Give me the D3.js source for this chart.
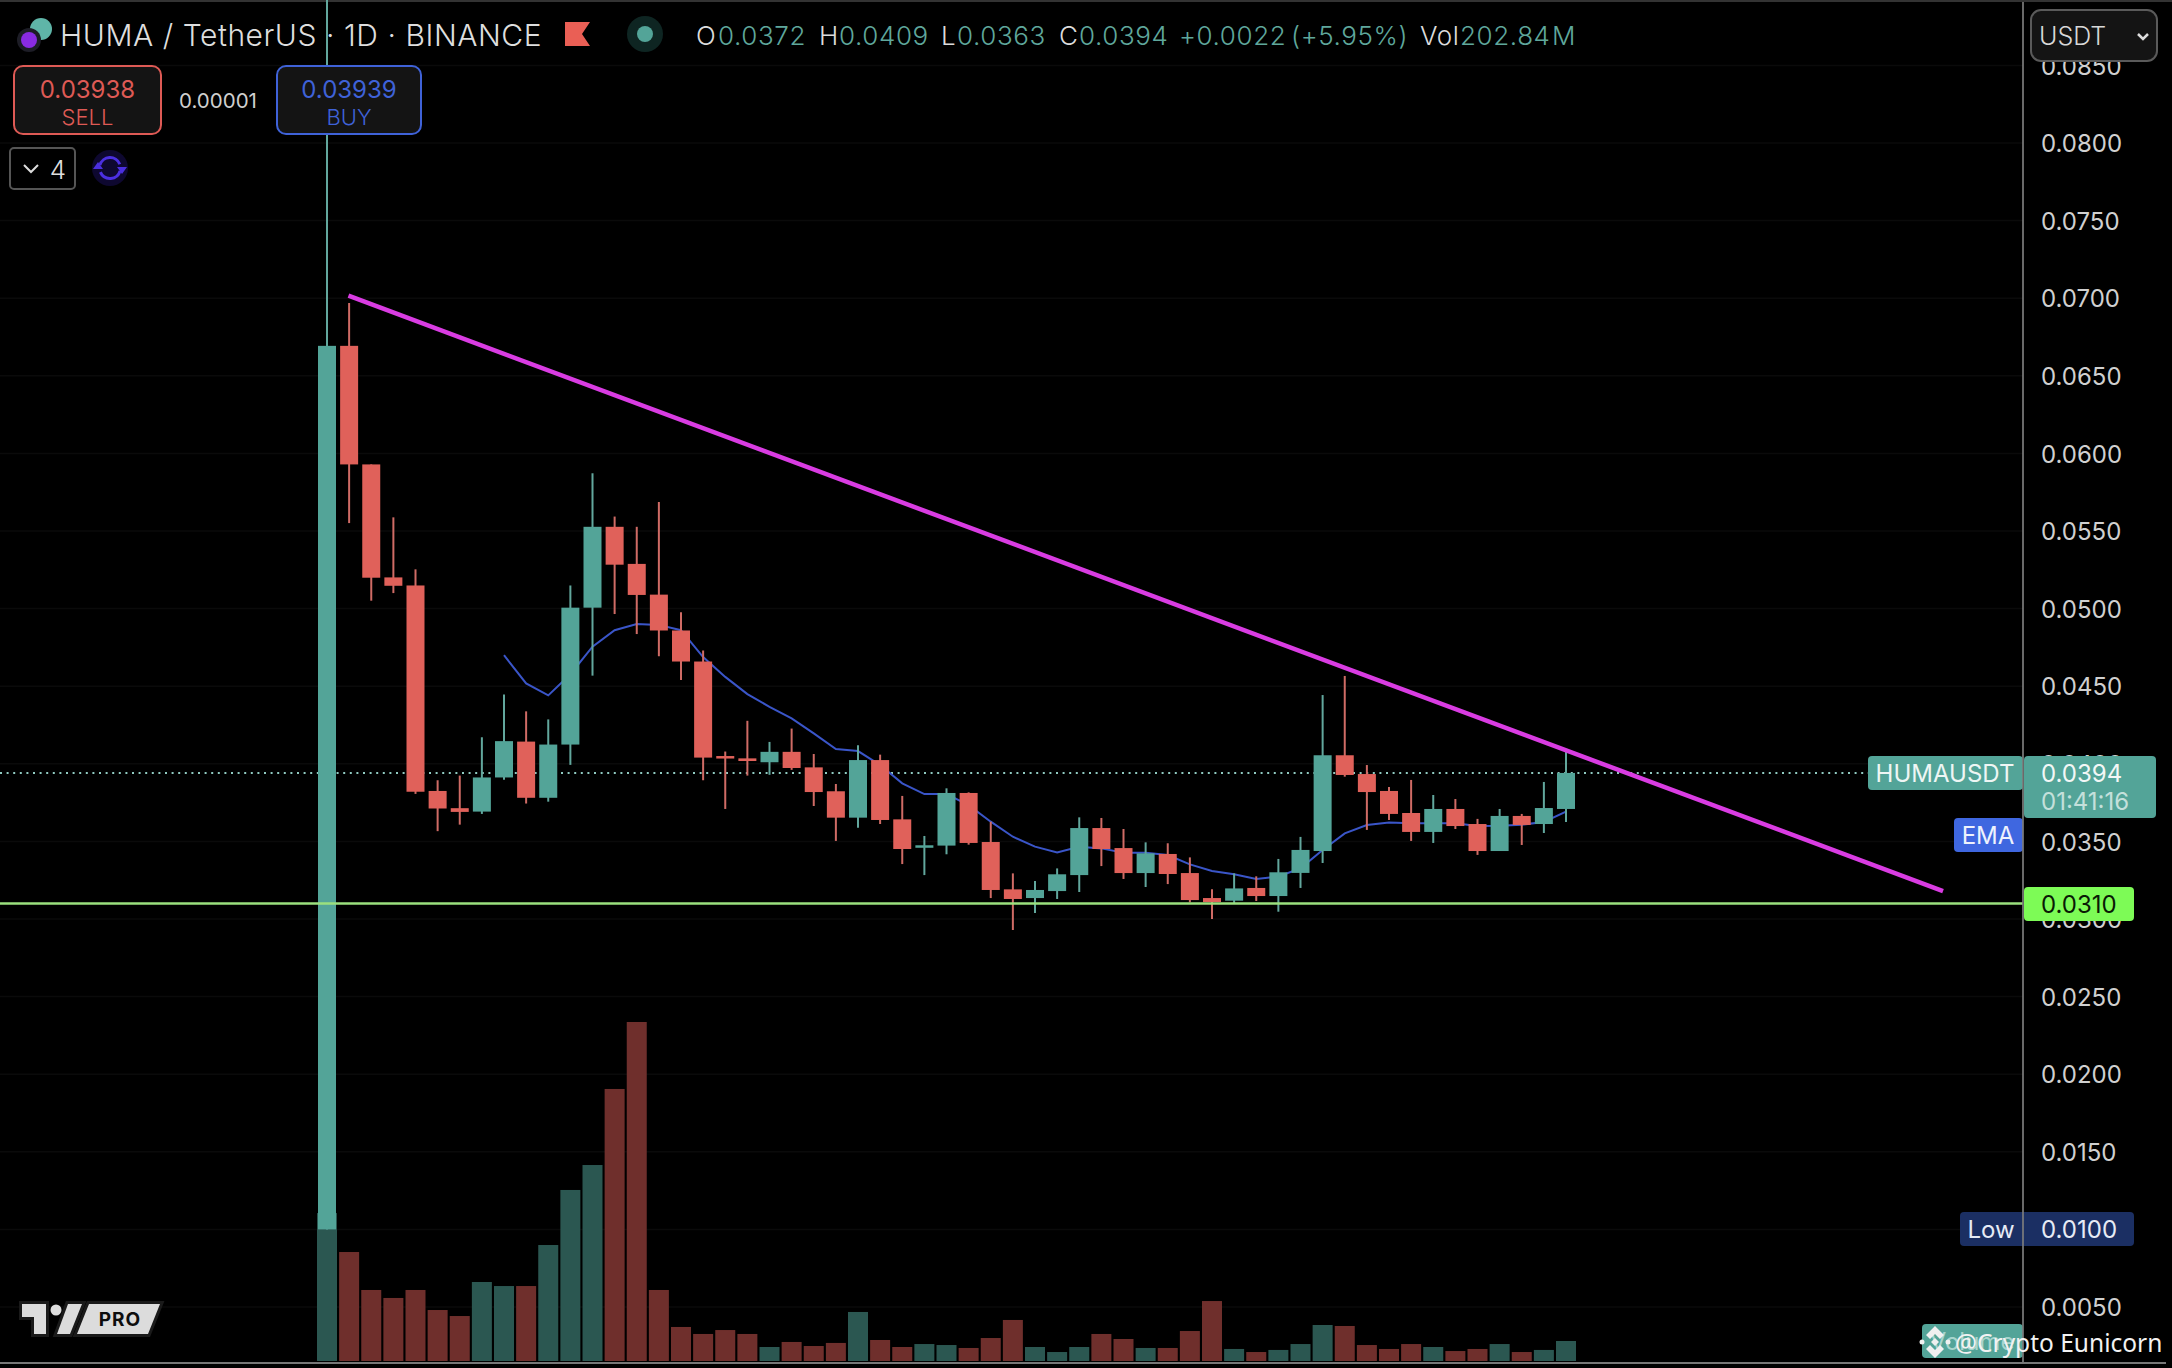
<!DOCTYPE html>
<html>
<head>
<meta charset="utf-8">
<script src="https://cdn.jsdelivr.net/npm/d3@7"></script>
<style>
  html, body { margin: 0; padding: 0; background: #000; overflow: hidden; }
  text { font-family: Inter, Roboto, sans-serif; }
</style>
</head>
<body>
<svg id="chart" width="2172" height="1368"></svg>
<script>
// values (price in USDT, volume in millions)
const opens = [0.01000,0.06693,0.05929,0.05201,0.05149,0.03825,0.03714,0.03692,0.03912,0.04143,0.03781,0.04124,0.05006,0.05527,0.05288,0.05090,0.04859,0.04659,0.04050,0.04035,0.04010,0.04077,0.03977,0.03823,0.03653,0.04024,0.03642,0.03460,0.03473,0.03812,0.03496,0.03191,0.03135,0.03180,0.03283,0.03586,0.03457,0.03296,0.03419,0.03296,0.03135,0.03118,0.03200,0.03148,0.03297,0.03438,0.04055,0.03934,0.03825,0.03683,0.03561,0.03709,0.03612,0.03438,0.03664,0.03612,0.03709];
const highs = [0.09000,0.06969,0.05929,0.05588,0.05253,0.03894,0.03924,0.04171,0.04447,0.04338,0.04286,0.05149,0.05872,0.05593,0.05527,0.05687,0.04977,0.04730,0.04079,0.04277,0.04141,0.04227,0.04063,0.03870,0.04119,0.04059,0.03793,0.03535,0.03842,0.03816,0.03627,0.03294,0.03245,0.03326,0.03655,0.03651,0.03580,0.03494,0.03488,0.03397,0.03191,0.03294,0.03275,0.03387,0.03529,0.04443,0.04566,0.03992,0.03851,0.03896,0.03799,0.03773,0.03645,0.03709,0.03677,0.03883,0.04076];
const lows = [0.01000,0.05551,0.05051,0.05100,0.03806,0.03566,0.03608,0.03677,0.03897,0.03744,0.03756,0.03993,0.04568,0.04965,0.04836,0.04693,0.04540,0.03894,0.03709,0.03924,0.03929,0.03961,0.03728,0.03503,0.03588,0.03612,0.03354,0.03283,0.03417,0.03479,0.03135,0.02929,0.03039,0.03129,0.03174,0.03341,0.03258,0.03206,0.03225,0.03107,0.03000,0.03097,0.03116,0.03047,0.03200,0.03361,0.03917,0.03574,0.03638,0.03503,0.03490,0.03580,0.03413,0.03438,0.03477,0.03554,0.03625];
const closes = [0.06693,0.05929,0.05199,0.05147,0.03820,0.03712,0.03690,0.03912,0.04146,0.03781,0.04124,0.05006,0.05527,0.05283,0.05088,0.04859,0.04659,0.04040,0.04035,0.04018,0.04077,0.03973,0.03818,0.03653,0.04024,0.03638,0.03451,0.03475,0.03812,0.03490,0.03187,0.03129,0.03187,0.03288,0.03586,0.03451,0.03296,0.03423,0.03290,0.03122,0.03109,0.03197,0.03148,0.03301,0.03445,0.04055,0.03928,0.03818,0.03677,0.03561,0.03709,0.03599,0.03438,0.03664,0.03606,0.03715,0.03941];
const volumes = [1500,1105,720,639,720,517,456,801,760,760,1176,1734,1987,2758,3437,720,345,274,314,274,142,193,152,183,497,213,142,172,162,132,233,416,142,91,142,274,223,132,132,304,608,122,91,112,172,365,355,162,122,172,142,101,122,172,91,112,202.84];
const emaStart = 8;
const emaValues = [0.04700,0.04518,0.04441,0.04577,0.04755,0.04861,0.04900,0.04895,0.04861,0.04688,0.04560,0.04449,0.04367,0.04293,0.04196,0.04095,0.04082,0.03992,0.03874,0.03805,0.03805,0.03734,0.03627,0.03530,0.03466,0.03429,0.03466,0.03455,0.03427,0.03427,0.03412,0.03352,0.03309,0.03288,0.03258,0.03273,0.03327,0.03445,0.03552,0.03606,0.03621,0.03617,0.03617,0.03617,0.03599,0.03601,0.03608,0.03625,0.03692];
const priceTicks = [0.085,0.08,0.075,0.07,0.065,0.06,0.055,0.05,0.045,0.04,0.035,0.03,0.025,0.02,0.015,0.01,0.005];
const trendIdx = [0.97, 73.04];
const trendPrice = [0.07016, 0.03180];
const lastPrice = 0.0394;
const supportPrice = 0.0310;

const TEAL = '#53a498', RED = '#e0615a';
const svg = d3.select('#chart');
const x = d3.scaleLinear().domain([0, 56]).range([327, 1566]);
const y = d3.scaleLinear().domain([0.08, 0.005]).range([143, 1307]);
const yVol = d3.scaleLinear().domain([0, 3437]).range([1361, 1022]);
const axisX = 2023;
const isUp = i => closes[i] >= opens[i];

svg.append('rect').attr('width', 2172).attr('height', 1368).attr('fill', '#000');
svg.append('rect').attr('width', 2172).attr('height', 2).attr('fill', '#333');

// grid
svg.append('g').selectAll('line').data(priceTicks).enter().append('line')
  .attr('x1', 0).attr('x2', axisX)
  .attr('y1', d => y(d)).attr('y2', d => y(d))
  .attr('stroke', '#0a0a0a').attr('stroke-width', 1.5);

// last price dotted line
svg.append('line').attr('x1', 0).attr('x2', 1868)
  .attr('y1', y(lastPrice)).attr('y2', y(lastPrice))
  .attr('stroke', '#8fcac1').attr('stroke-width', 2).attr('stroke-dasharray', '2 4.6');

// volume
svg.append('g').selectAll('rect').data(volumes).enter().append('rect')
  .attr('x', (d, i) => x(i) - 10)
  .attr('width', 20)
  .attr('y', d => yVol(d))
  .attr('height', d => yVol(0) - yVol(d))
  .attr('fill', (d, i) => isUp(i) ? '#2b5751' : '#6f2f2c');

// ema
const emaLine = d3.line()
  .x((d, i) => x(i + emaStart))
  .y(d => y(d));
svg.append('path').attr('d', emaLine(emaValues))
  .attr('fill', 'none').attr('stroke', '#3a55c8').attr('stroke-width', 2);

// candles
const candles = svg.append('g').selectAll('g').data(opens).enter().append('g');
candles.append('line')
  .attr('x1', (d, i) => x(i)).attr('x2', (d, i) => x(i))
  .attr('y1', (d, i) => y(highs[i])).attr('y2', (d, i) => y(lows[i]))
  .attr('stroke', (d, i) => isUp(i) ? '#62a79d' : '#cf6b65')
  .attr('stroke-width', 2);
candles.append('rect')
  .attr('x', (d, i) => x(i) - 9)
  .attr('width', 18)
  .attr('y', (d, i) => y(Math.max(opens[i], closes[i])))
  .attr('height', (d, i) => Math.max(2.5, Math.abs(y(opens[i]) - y(closes[i]))))
  .attr('fill', (d, i) => isUp(i) ? TEAL : RED);

// drawings
svg.append('line').attr('x1', 0).attr('x2', axisX)
  .attr('y1', y(supportPrice)).attr('y2', y(supportPrice))
  .attr('stroke', '#9be07e').attr('stroke-width', 2.5);
svg.append('line')
  .attr('x1', x(trendIdx[0])).attr('x2', x(trendIdx[1]))
  .attr('y1', y(trendPrice[0])).attr('y2', y(trendPrice[1]))
  .attr('stroke', '#d93ce2').attr('stroke-width', 4.5);

// price axis
const axis = svg.append('g').attr('transform', `translate(${axisX},1)`)
  .call(d3.axisRight(y).tickValues(priceTicks).tickFormat(d3.format('.4f')).tickSize(0).tickPadding(18));
axis.select('.domain').remove();
axis.selectAll('text')
  .attr('fill', '#d0d0d0').style('font-size', '24px').style('font-family', 'Inter, Roboto, sans-serif');

function tag(x0, y0, w, h, fill, r) {
  return svg.append('rect').attr('x', x0).attr('y', y0).attr('width', w).attr('height', h)
    .attr('rx', r === undefined ? 4 : r).attr('fill', fill);
}
function label(str, px, py, size, fill, anchor, extra) {
  const t = svg.append('text').attr('x', px).attr('y', py)
    .attr('font-size', size).attr('fill', fill)
    .attr('text-anchor', anchor || 'start').attr('dominant-baseline', 'central').text(str);
  if (extra) Object.keys(extra).forEach(k => t.attr(k, extra[k]));
  return t;
}

// axis line sits under the tags, except the low tag
tag(1868, 756, 155, 34, TEAL);
label('HUMAUSDT', 1945, 773, 24, '#eef6f4', 'middle');
tag(2024, 756, 132, 62, TEAL);
label('0.0394', 2041, 773, 24, '#f2f7f6');
label('01:41:16', 2041, 801, 24, '#c4e0db');
tag(1954, 818, 69, 34, '#3f67e0');
label('EMA', 1988, 835, 24, '#eef2fd', 'middle');
tag(2024, 887, 110, 34, '#7dfb56');
label('0.0310', 2041, 904, 24, '#0a1a05');
tag(1960, 1212, 174, 34, '#1b2f63');
label('Low', 1991, 1229, 24, '#e6ebf5', 'middle');
label('0.0100', 2041, 1229, 24, '#e6ebf5');
tag(1922, 1324, 101, 34, TEAL);
label('Volume', 1972, 1341, 24, '#a6d5cd', 'middle');

svg.append('line').attr('x1', axisX).attr('x2', axisX).attr('y1', 2).attr('y2', 1362)
  .attr('stroke', '#7c7c7c').attr('stroke-width', 2).attr('opacity', 0.85);
svg.append('rect').attr('x', 0).attr('y', 1362).attr('width', 2166).attr('height', 2).attr('fill', '#777');

// watermark
const diamond = svg.append('g').attr('transform', 'translate(1935,1342)').attr('fill', '#f0f0f0');
diamond.append('path').attr('d', 'M0,-16 L9,-7 L5,-3 L0,-8 L-5,-3 L-9,-7 Z M0,16 L9,7 L5,3 L0,8 L-5,3 L-9,7 Z M0,-4 L4,0 L0,4 L-4,0 Z');
diamond.append('circle').attr('cx', -13).attr('cy', 0).attr('r', 2.5);
diamond.append('circle').attr('cx', 13).attr('cy', 0).attr('r', 2.5);
label('@Crypto Eunicorn', 1955, 1342, 24.5, '#f2f2f2', 'start', { style: "font-family:'Noto Sans'" });

// header
const coin1 = svg.append('g');
coin1.append('circle').attr('cx', 41).attr('cy', 29).attr('r', 11).attr('fill', '#5fb5a8');
coin1.append('circle').attr('cx', 29).attr('cy', 40).attr('r', 12).attr('fill', '#1d1d26');
coin1.append('circle').attr('cx', 29).attr('cy', 40).attr('r', 8).attr('fill', '#8a2be2');
label('HUMA / TetherUS · 1D · BINANCE', 60, 35, 30, '#dedede', 'start', { 'font-weight': 300, 'letter-spacing': 0.55 });
svg.append('path').attr('d', 'M565,22 H590 L582,34 L590,46 H565 Z').attr('fill', '#ea5f55');
svg.append('circle').attr('cx', 645).attr('cy', 34).attr('r', 18).attr('fill', '#0e2522');
svg.append('circle').attr('cx', 645).attr('cy', 34).attr('r', 8).attr('fill', TEAL);

const W = '#dcdcdc', V = '#5fa79c';
[['O',696,W],['0.0372',718,V],['H',819,W],['0.0409',839,V],['L',941,W],['0.0363',957,V],
 ['C',1059,W],['0.0394',1079,V],['+0.0022',1179,V],['(+5.95%)',1291,V],['Vol',1420,W],['202.84',1460,V],['M',1552,V]]
  .forEach(d => label(d[0], d[1], 35, 26, d[2], 'start', { 'font-weight': 300, 'letter-spacing': 0.6 }));

// sell / buy
function priceBox(x0, w, color, price, name) {
  svg.append('rect').attr('x', x0).attr('y', 66).attr('width', w).attr('height', 68).attr('rx', 9)
    .attr('fill', '#141414').attr('stroke', color).attr('stroke-width', 2);
  label(price, x0 + w / 2, 89, 24, color, 'middle');
  label(name, x0 + w / 2, 117, 22, color, 'middle', { 'font-weight': 300 });
}
priceBox(14, 147, '#de5a55', '0.03938', 'SELL');
label('0.00001', 218, 100, 20.5, '#cfcfcf', 'middle');
priceBox(277, 144, '#3f62d8', '0.03939', 'BUY');

svg.append('rect').attr('x', 10).attr('y', 148).attr('width', 65).attr('height', 41).attr('rx', 4)
  .attr('fill', '#000').attr('stroke', '#555').attr('stroke-width', 2);
svg.append('path').attr('d', 'M24,165 L31,172 L38,165').attr('fill', 'none').attr('stroke', '#ddd').attr('stroke-width', 2);
label('4', 58, 169, 26, '#dedede', 'middle', { 'font-weight': 300 });

// refresh icon
const refresh = svg.append('g').attr('transform', 'translate(110,168)');
refresh.append('circle').attr('r', 18).attr('fill', '#0e0830');
const arc = d3.arc().innerRadius(9).outerRadius(12);
refresh.append('path').attr('d', arc({ startAngle: -1.3, endAngle: 1.2 })).attr('fill', '#4b2fe0');
refresh.append('path').attr('d', arc({ startAngle: 1.85, endAngle: 4.3 })).attr('fill', '#4b2fe0');
refresh.append('path').attr('d', 'M7,-1 L17,-1 L12,6 Z M-7,1 L-17,1 L-12,-6 Z').attr('fill', '#4b2fe0');

// currency select
svg.append('rect').attr('x', 2031).attr('y', 10).attr('width', 126).attr('height', 51).attr('rx', 10)
  .attr('fill', '#141414').attr('stroke', '#5a5a5a').attr('stroke-width', 2);
label('USDT', 2039, 36, 25, '#d8d8d8', 'start', { 'font-weight': 300 });
svg.append('path').attr('d', 'M2138,34 L2143,39 L2148,34').attr('fill', 'none').attr('stroke', '#ddd').attr('stroke-width', 2.5);

// logo
const logo = svg.append('g').attr('fill', '#dcdcdc');
const halo = { stroke: '#1a1a1a', 'stroke-width': 6, 'paint-order': 'stroke' };
[ 'M22,1304 H46 V1334 H34 V1317 H22 Z', 'M68,1304 H82 L70,1334 H57 Z', 'M89,1304 H160 L148,1334 H77 Z' ]
  .forEach(p => {
    const s = logo.append('path').attr('d', p);
    Object.keys(halo).forEach(k => s.attr(k, halo[k]));
  });
logo.append('circle').attr('cx', 56).attr('cy', 1310).attr('r', 5.5);
label('PRO', 120, 1319, 19, '#0d0d0d', 'middle', { 'font-weight': 700, 'letter-spacing': 1 });
</script>
</body>
</html>
